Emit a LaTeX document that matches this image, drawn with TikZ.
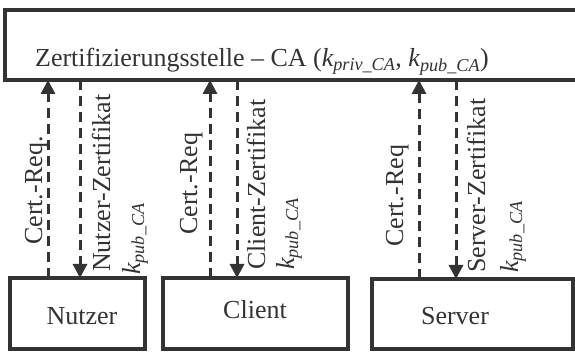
\documentclass[tikz,border=0pt]{standalone}
\usepackage{fontspec}
\setmainfont{Liberation Serif}
\usetikzlibrary{arrows.meta}
\definecolor{ink}{HTML}{333333}
\tikzset{
  boxline/.style={draw=ink,line width=3.8pt},
  msg/.style={draw=ink,line width=3pt,dash pattern=on 10pt off 6pt,-{Triangle[length=14pt,width=14pt]}},
  lbl/.style={rotate=90,anchor=base west,inner sep=0pt,text=ink,font=\fontsize{26}{30}\selectfont},
  boxtxt/.style={inner sep=0pt,text=ink,font=\fontsize{26}{30}\selectfont}
}
\newcommand{\kpub}{\textit{k\textsubscript{pub\_CA}}}
\newcommand{\kpriv}{\textit{k\textsubscript{priv\_CA}}}
\begin{document}
\begin{tikzpicture}[x=1pt,y=1pt]
\useasboundingbox (0,0) rectangle (575,352);
% CA box
\draw[boxline] (5,342) rectangle (590,272);
\node[boxtxt,anchor=base] (ca) at (262,285) {Zertifizierungsstelle – CA (\kpriv, \kpub)};
% bottom boxes
\draw[boxline] (10,74) rectangle (145,3);
\draw[boxline] (163,74) rectangle (348,3);
\draw[boxline] (372,73) rectangle (573,3);
\node[boxtxt] (nutzer) at (82,36) {Nutzer};
\node[boxtxt] (client) at (255,42) {Client};
\node[boxtxt] (server) at (455,36) {Server};
% coordinates for arrow endpoints
\coordinate (n1b) at (48,74);  \coordinate (n1t) at (48,272);
\coordinate (n2t) at (80,272); \coordinate (n2b) at (80,74);
\coordinate (c1b) at (210,74); \coordinate (c1t) at (210,272);
\coordinate (c2t) at (237,272);\coordinate (c2b) at (237,74);
\coordinate (s1b) at (419,73); \coordinate (s1t) at (419,272);
\coordinate (s2t) at (456,272);\coordinate (s2b) at (456,73);
\draw[msg] (n1b) -- (n1t);
\draw[msg] (n2t) -- (n2b);
\draw[msg] (c1b) -- (c1t);
\draw[msg] (c2t) -- (c2b);
\draw[msg] (s1b) -- (s1t);
\draw[msg] (s2t) -- (s2b);
% labels
\node[lbl] (l1) at (42,107) {Cert.-Req.};
\node[lbl] (l2) at (110,80) {Nutzer-Zertifikat};
\node[lbl] (l3) at (140,77) {\kpub};
\node[lbl] (l4) at (197,117) {Cert.-Req};
\node[lbl] (l5) at (265,82) {Client-Zertifikat};
\node[lbl] (l6) at (294,82) {\kpub};
\node[lbl] (l7) at (403,105) {Cert.-Req};
\node[lbl] (l8) at (485,79) {Server-Zertifikat};
\node[lbl] (l9) at (518,79) {\kpub};
\end{tikzpicture}
\end{document}
